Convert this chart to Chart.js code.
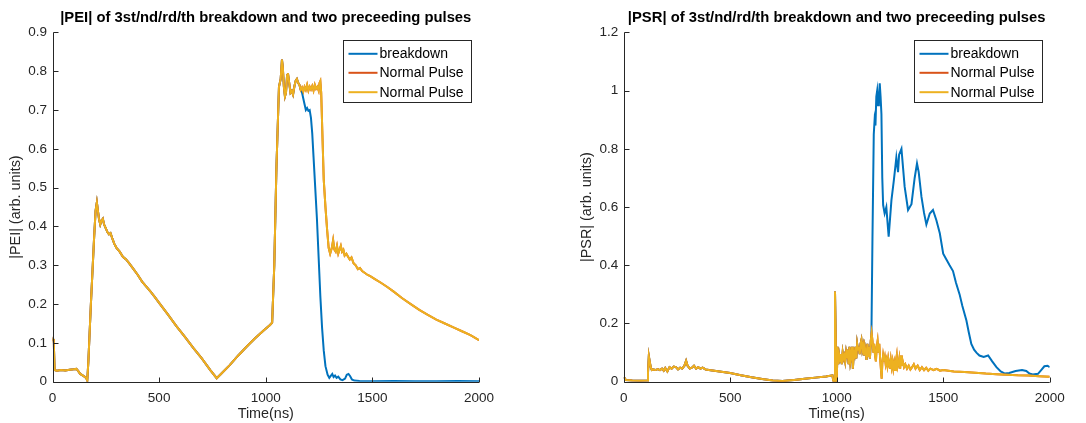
<!DOCTYPE html>
<html>
<head>
<meta charset="utf-8">
<script src="https://cdn.jsdelivr.net/npm/chart.js@4.4.0/dist/chart.umd.min.js"></script>
<style>
body { margin: 0; background: #fff; }
#wrap { position: relative; width: 1086px; height: 423px; }
canvas { position: absolute; top: 0; }
</style>
</head>
<body>
<div id="wrap">
<canvas id="peiChart" width="543" height="423" style="left:0"></canvas>
<canvas id="psrChart" width="543" height="423" style="left:543px"></canvas>
</div>
<script>
// series labels
const seriesLabels = ['breakdown', 'Normal Pulse', 'Normal Pulse'];

// |PEI| normal pulse (both normal pulses overlap)
const peiNormT = [0,3,6,10,20,40,60,80,100,112,120,130,145,158,163,168,180,195,202,208,213,218,224,230,236,242,250,258,265,272,280,290,300,315,330,345,360,380,400,420,440,460,480,500,540,580,620,660,700,740,770,790,830,870,910,950,990,1020,1030,1040,1050,1062,1070,1076,1080,1085,1090,1095,1100,1104,1110,1116,1122,1128,1134,1140,1146,1152,1158,1164,1170,1176,1182,1188,1194,1200,1206,1212,1218,1224,1230,1236,1242,1248,1252,1256,1260,1265,1272,1280,1288,1295,1302,1310,1316,1322,1328,1334,1340,1346,1352,1358,1364,1370,1378,1386,1394,1402,1412,1422,1432,1442,1452,1465,1478,1490,1510,1540,1570,1600,1640,1680,1720,1760,1800,1840,1880,1920,1960,2000];
const peiNormV = [0.105,0.11,0.10,0.03,0.028,0.03,0.029,0.031,0.032,0.033,0.028,0.02,0.015,0.01,0.003,0.05,0.2,0.37,0.44,0.462,0.44,0.42,0.405,0.415,0.42,0.405,0.395,0.385,0.38,0.383,0.37,0.355,0.345,0.335,0.322,0.315,0.305,0.29,0.275,0.258,0.245,0.232,0.218,0.203,0.174,0.144,0.116,0.087,0.06,0.03,0.009,0.02,0.042,0.067,0.09,0.112,0.132,0.146,0.152,0.3,0.55,0.76,0.78,0.83,0.81,0.76,0.735,0.745,0.79,0.795,0.77,0.745,0.75,0.74,0.76,0.775,0.78,0.77,0.765,0.752,0.758,0.748,0.76,0.752,0.765,0.75,0.76,0.753,0.762,0.75,0.765,0.755,0.76,0.75,0.77,0.775,0.745,0.65,0.52,0.45,0.39,0.345,0.33,0.345,0.365,0.34,0.335,0.35,0.33,0.34,0.35,0.335,0.34,0.325,0.33,0.322,0.315,0.32,0.305,0.3,0.29,0.293,0.285,0.28,0.275,0.272,0.265,0.255,0.244,0.232,0.215,0.2,0.185,0.172,0.16,0.15,0.14,0.13,0.12,0.107];

// |PEI| breakdown after it leaves the normal trace
const peiBreakT = [1170,1176,1182,1188,1194,1200,1206,1212,1218,1224,1232,1240,1248,1256,1264,1272,1280,1290,1298,1305,1312,1318,1325,1332,1340,1350,1360,1372,1380,1388,1396,1404,1415,1440,1500,1600,1700,1800,1900,2000];
const peiBreakV = [0.745,0.73,0.715,0.70,0.705,0.698,0.70,0.68,0.64,0.58,0.5,0.42,0.32,0.22,0.14,0.08,0.04,0.018,0.01,0.015,0.02,0.012,0.016,0.01,0.013,0.006,0.004,0.008,0.018,0.02,0.014,0.006,0.003,0.002,0.001,0.002,0.001,0.001,0.002,0.001];

// |PSR| normal pulse
const psrNormT = [0,5,10,40,80,110,114,118,122,127,132,140,150,160,170,180,188,195,205,215,225,235,245,255,265,275,285,293,300,310,320,330,340,350,360,370,385,400,450,500,550,600,650,700,745,800,850,900,950,980,984,988,992,996,1000,1004,1008,1012,1016,1020,1024,1028,1032,1036,1040,1044,1048,1052,1056,1060,1064,1068,1072,1076,1080,1084,1088,1092,1096,1100,1104,1108,1112,1116,1120,1124,1128,1132,1136,1140,1144,1148,1152,1156,1160,1164,1168,1172,1176,1180,1184,1188,1192,1196,1200,1204,1208,1211,1214,1218,1222,1226,1230,1234,1238,1242,1246,1250,1254,1258,1262,1266,1270,1274,1278,1282,1286,1290,1294,1298,1302,1306,1310,1316,1322,1330,1338,1346,1354,1362,1370,1380,1390,1400,1410,1420,1430,1440,1455,1470,1485,1500,1550,1600,1650,1700,1750,1800,1850,1900,1950,2000];
const psrNormV = [0.015,0.012,0.006,0.004,0.003,0.004,0.03,0.088,0.07,0.05,0.04,0.042,0.04,0.043,0.04,0.045,0.038,0.047,0.035,0.05,0.045,0.052,0.05,0.042,0.048,0.045,0.055,0.072,0.055,0.045,0.048,0.055,0.045,0.05,0.045,0.048,0.042,0.04,0.035,0.03,0.022,0.015,0.009,0.004,0.002,0.006,0.01,0.014,0.018,0.022,0.003,0.0,0.31,0.12,0.0,0.12,0.06,0.09,0.07,0.095,0.06,0.1,0.08,0.09,0.07,0.1,0.08,0.11,0.06,0.12,0.07,0.09,0.12,0.045,0.1,0.09,0.12,0.08,0.13,0.11,0.12,0.095,0.13,0.143,0.11,0.125,0.09,0.12,0.1,0.075,0.13,0.085,0.12,0.08,0.14,0.166,0.14,0.1,0.13,0.09,0.07,0.12,0.14,0.1,0.13,0.08,0.04,0.01,0.06,0.09,0.07,0.085,0.06,0.075,0.055,0.08,0.06,0.045,0.075,0.05,0.07,0.045,0.065,0.04,0.07,0.09,0.05,0.06,0.08,0.045,0.09,0.055,0.07,0.05,0.06,0.045,0.055,0.042,0.05,0.06,0.045,0.055,0.04,0.05,0.04,0.048,0.038,0.045,0.04,0.044,0.038,0.04,0.035,0.033,0.031,0.028,0.026,0.024,0.022,0.021,0.019,0.017];

// |PSR| breakdown after it leaves the normal trace
const psrBreakT = [1163,1168,1174,1178,1182,1186,1190,1194,1198,1202,1206,1210,1214,1218,1225,1233,1244,1257,1268,1280,1288,1293,1304,1319,1335,1351,1366,1377,1385,1398,1410,1421,1437,1452,1468,1484,1500,1515,1530,1546,1560,1577,1590,1609,1620,1632,1645,1656,1670,1690,1711,1730,1750,1770,1790,1810,1840,1870,1890,1905,1920,1945,1960,1975,1990,2000];
const psrBreakV = [0.16,0.5,0.85,0.9,0.88,0.98,1.0,0.95,0.97,1.025,0.98,0.92,0.7,0.607,0.578,0.6,0.498,0.624,0.69,0.77,0.72,0.78,0.8,0.67,0.59,0.61,0.70,0.75,0.72,0.635,0.58,0.54,0.578,0.59,0.555,0.51,0.44,0.42,0.40,0.38,0.34,0.30,0.26,0.21,0.17,0.13,0.11,0.1,0.09,0.085,0.09,0.07,0.05,0.035,0.028,0.03,0.037,0.04,0.037,0.028,0.025,0.027,0.04,0.053,0.055,0.05];

const colors = ['#0072BD', '#D95319', '#EDB120'];
const axisColor = '#262626';
const fontFamily = '"Liberation Sans", Arial, sans-serif';

function pts(ts, vs) { return ts.map((t, i) => ({x: t, y: vs[i]})); }

// breakdown trace follows the normal one until it separates
function breakdown(normT, normV, tailT, tailV) {
  const head = pts(normT, normV).filter(p => p.x < tailT[0]);
  return head.concat(pts(tailT, tailV));
}

const matlabAxes = {
  id: 'matlabAxes',
  afterDraw(chart) {
    const {ctx, chartArea: a, scales: {x, y}} = chart;
    ctx.save();
    ctx.strokeStyle = axisColor;
    ctx.lineWidth = 1;
    ctx.beginPath();
    const L = Math.round(a.left) + 0.5, B = Math.round(a.bottom) + 0.5;
    ctx.moveTo(L, a.top);
    ctx.lineTo(L, B);
    ctx.lineTo(a.right, B);
    x.ticks.forEach(t => {
      const px = Math.round(x.getPixelForValue(t.value)) + 0.5;
      ctx.moveTo(px, B); ctx.lineTo(px, B - 5);
    });
    y.ticks.forEach(t => {
      const py = Math.round(y.getPixelForValue(t.value)) + 0.5;
      ctx.moveTo(L, py); ctx.lineTo(L + 5, py);
    });
    ctx.stroke();

    // legend box, top right inside the axes
    const w = 128, h = 62;
    const bx = Math.round(a.right - 8 - w) + 0.5, by = Math.round(a.top + 7.5) + 0.5;
    ctx.fillStyle = '#fff';
    ctx.fillRect(bx, by, w, h);
    ctx.strokeRect(bx, by, w, h);
    ctx.font = '14px ' + fontFamily;
    ctx.textBaseline = 'middle';
    const rows = [13.3, 32.3, 51.7];
    chart.data.datasets.forEach((ds, i) => {
      const ry = by + rows[i];
      ctx.strokeStyle = ds.borderColor;
      ctx.lineWidth = 2;
      ctx.beginPath();
      ctx.moveTo(bx + 5, ry); ctx.lineTo(bx + 34, ry);
      ctx.stroke();
      ctx.fillStyle = '#000';
      ctx.fillText(ds.label, bx + 36, ry + 0.5);
    });
    ctx.restore();
  }
};

function makeChart(id, title, yTitle, yMax, yStep, yWidth, padRight, yTitlePad, sets) {
  return new Chart(document.getElementById(id), {
    type: 'line',
    data: {
      datasets: sets.map((d, i) => ({
        label: seriesLabels[i],
        data: d,
        borderColor: colors[i],
        borderWidth: 2,
        pointRadius: 0,
        tension: 0,
        fill: false,
        order: 2 - i
      }))
    },
    options: {
      responsive: false,
      animation: false,
      layout: { padding: { left: 0, right: padRight, top: 0, bottom: 0 } },
      plugins: {
        legend: { display: false },
        tooltip: { enabled: false },
        title: {
          display: true,
          text: title,
          fullSize: false,
          color: '#000',
          font: { family: fontFamily, size: 14.8, weight: 'bold' },
          padding: { top: 9.1, bottom: 5.6 }
        }
      },
      scales: {
        x: {
          type: 'linear',
          min: 0, max: 2000,
          afterFit(s) { s.height = 41.3; },
          grid: { display: false, drawTicks: false },
          border: { display: false },
          ticks: { stepSize: 500, padding: 8, color: axisColor, maxRotation: 0,
                   callback: v => String(v),
                   font: { family: fontFamily, size: 13.5 } },
          title: { display: true, text: 'Time(ns)', color: axisColor, padding: { top: 0, bottom: 0 },
                   font: { family: fontFamily, size: 14.4 } }
        },
        y: {
          min: 0, max: yMax,
          afterFit(s) { s.width = yWidth; },
          grid: { display: false, drawTicks: false },
          border: { display: false },
          ticks: { stepSize: yStep, padding: 5.5, color: axisColor,
                   callback: v => String(Number(v.toFixed(2))),
                   font: { family: fontFamily, size: 13.5 } },
          title: { display: true, text: yTitle, color: axisColor, padding: { top: yTitlePad, bottom: 0 },
                   font: { family: fontFamily, size: 14.4 } }
        }
      }
    },
    plugins: [matlabAxes]
  });
}

const peiNorm = pts(peiNormT, peiNormV);
const psrNorm = pts(psrNormT, psrNormV);

makeChart('peiChart', '|PEI| of 3st/nd/rd/th breakdown and two preceeding pulses',
  '|PEI| (arb. units)', 0.9, 0.1, 52.5, 64, 7.6,
  [breakdown(peiNormT, peiNormV, peiBreakT, peiBreakV), peiNorm, peiNorm]);

makeChart('psrChart', '|PSR| of 3st/nd/rd/th breakdown and two preceeding pulses',
  '|PSR| (arb. units)', 1.2, 0.2, 80.7, 36.3, 35,
  [breakdown(psrNormT, psrNormV, psrBreakT, psrBreakV), psrNorm, psrNorm]);
</script>
</body>
</html>
